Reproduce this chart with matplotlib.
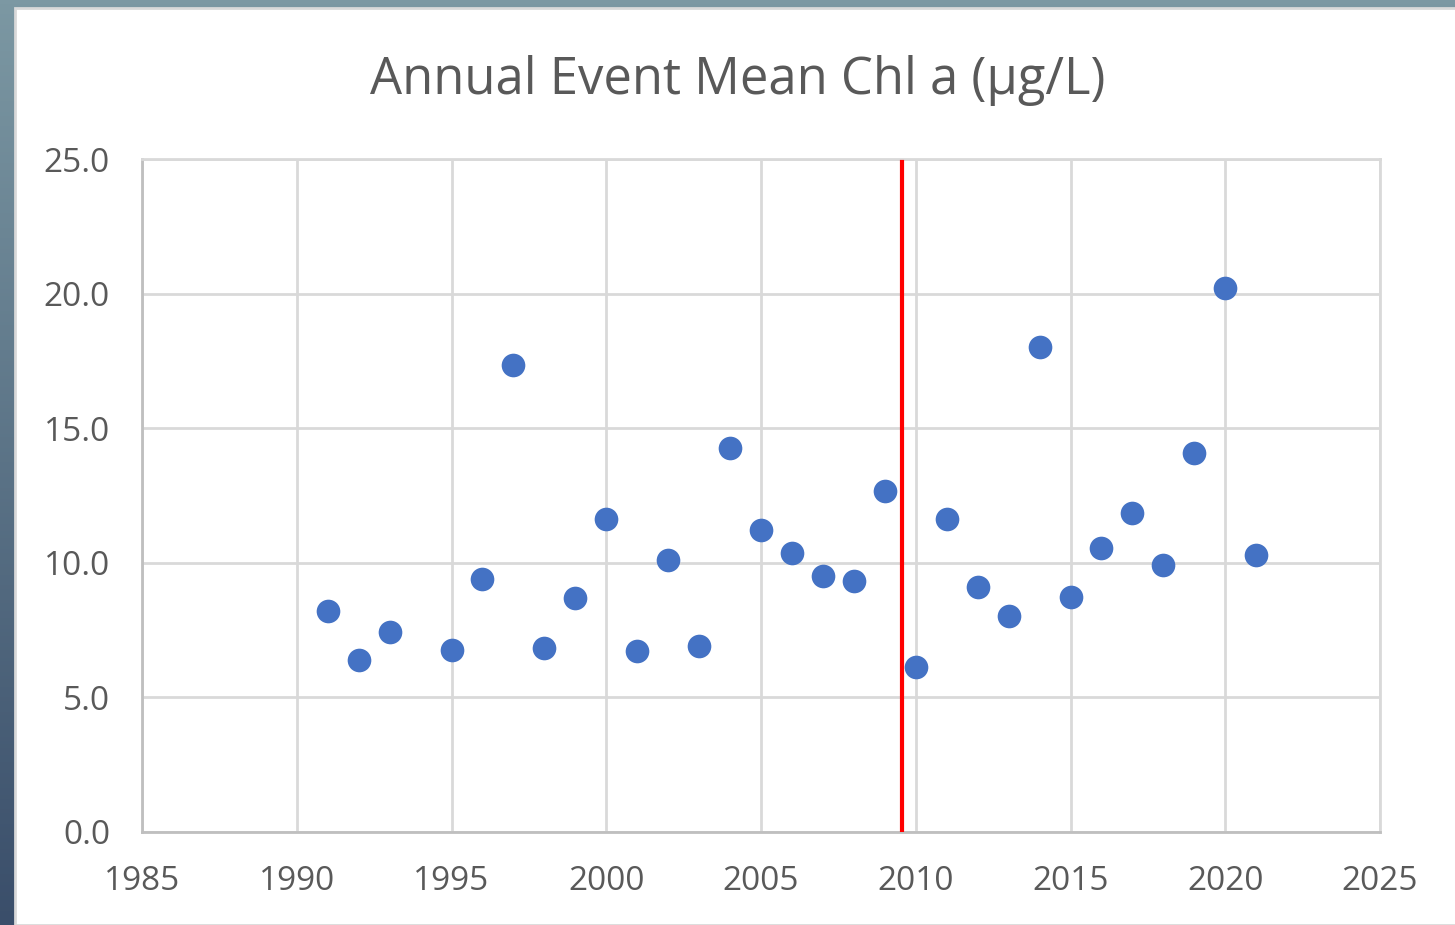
import numpy as np
import matplotlib.pyplot as plt
from matplotlib.patches import Rectangle

years = [1991, 1992, 1993, 1995, 1996, 1997, 1998, 1999, 2000, 2001,
         2002, 2003, 2004, 2005, 2006, 2007, 2008, 2009, 2010, 2011,
         2012, 2013, 2014, 2015, 2016, 2017, 2018, 2019, 2020, 2021]
chl_a = [8.21, 6.39, 7.43, 6.76, 9.40, 17.35, 6.84, 8.69, 11.63, 6.72,
         10.10, 6.91, 14.26, 11.22, 10.36, 9.51, 9.32, 12.67, 6.13, 11.63,
         9.10, 8.02, 18.02, 8.73, 10.55, 11.85, 9.92, 14.08, 20.21, 10.29]
change_year = 2009.55

x_ticks = [1985, 1990, 1995, 2000, 2005, 2010, 2015, 2020, 2025]
y_ticks = [0.0, 5.0, 10.0, 15.0, 20.0, 25.0]

plt.rcParams['font.family'] = ['Open Sans', 'DejaVu Sans']
text_col = '#595959'

fig = plt.figure(figsize=(14.55, 9.25), dpi=100)

# background: slide gradient strip on the left/top, white chart panel
bg = fig.add_axes([0, 0, 1, 1])
bg.set_axis_off()
grad = np.linspace(0, 1, 256).reshape(-1, 1)
top_col = np.array([0x7c, 0x98, 0xa3]) / 255
bot_col = np.array([0x3a, 0x4e, 0x6a]) / 255
img = top_col * (1 - grad[..., None]) + bot_col * grad[..., None]
bg.imshow(img, aspect='auto', extent=[0, 1, 0, 1], origin='upper')
bg.add_patch(Rectangle((15 / 1455, 0), 1, 1 - 8 / 925, facecolor='white',
                       edgecolor='#d9d9d9', linewidth=2))
bg.set_xlim(0, 1)
bg.set_ylim(0, 1)

ax = fig.add_axes([142 / 1455, 1 - 832 / 925, 1238 / 1455, 673 / 925])
ax.set_facecolor('white')
ax.scatter(years, chl_a, s=290, color='#4472c4', zorder=3, linewidths=0)
ax.axvline(change_year, ymin=0, ymax=(832 - 162) / 673, color='#ff0000',
           linewidth=3, zorder=4)

ax.set_xlim(1985, 2025)
ax.set_ylim(0, 25)
ax.set_xticks(x_ticks)
ax.set_yticks(y_ticks)
ax.set_yticklabels([f'{v:.1f}' for v in y_ticks])
ax.grid(True, color='#d9d9d9', linewidth=2, zorder=0)
ax.set_axisbelow(True)
for side in ['top', 'right']:
    ax.spines[side].set_color('#d9d9d9')
    ax.spines[side].set_linewidth(2)
for side in ['left', 'bottom']:
    ax.spines[side].set_color('#bfbfbf')
    ax.spines[side].set_linewidth(2)
ax.tick_params(length=0, labelsize=24, colors=text_col)
ax.tick_params(axis='x', pad=24)
ax.tick_params(axis='y', pad=23)

fig.text(0.507, 1 - 80 / 925, 'Annual Event Mean Chl a (µg/L)', ha='center',
         va='center', fontsize=36.5, color=text_col)

fig.savefig('out.png', dpi=100)
